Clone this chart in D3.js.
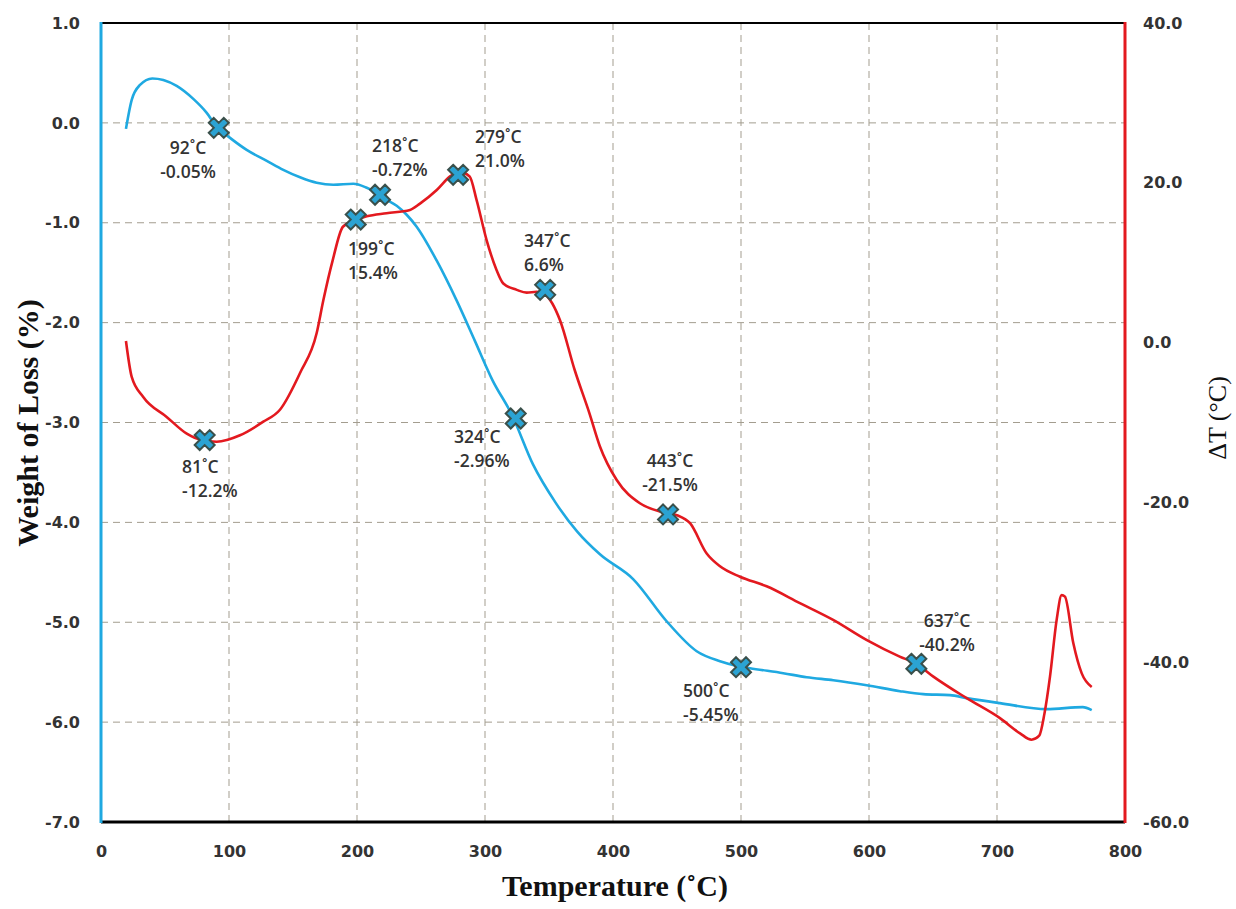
<!DOCTYPE html>
<html>
<head>
<meta charset="utf-8">
<script src="https://cdn.jsdelivr.net/npm/d3@7/dist/d3.min.js"></script>
<style>
  body { margin: 0; background: #fff; }
  svg { display: block; }
</style>
</head>
<body>
<svg width="1236" height="909"></svg>
<script>
// TG curve (weight loss %, left axis)
var tgTemp   = [19.5, 24, 30.5, 40.1, 48.7, 59.1, 72.1, 82.6, 90.4, 100.8, 113.8, 129.5, 142.4, 155.5, 168.5, 181.5, 197.1, 207.6, 214, 223.2, 231, 238.8, 246.6, 262.3, 277.9, 292, 306, 320.9, 337.5, 355, 371.9, 389.8, 415.9, 441.9, 465.4, 483.6, 497.9, 507, 533, 551.3, 572.1, 598.2, 624.2, 642.4, 663.3, 676.3, 702.3, 738.8, 767, 774];
var tgWeight = [-0.06, 0.23, 0.38, 0.445, 0.43, 0.37, 0.24, 0.10, -0.04, -0.15, -0.27, -0.38, -0.47, -0.545, -0.60, -0.62, -0.61, -0.65, -0.69, -0.77, -0.83, -0.92, -1.04, -1.38, -1.78, -2.18, -2.58, -2.92, -3.42, -3.80, -4.09, -4.32, -4.57, -4.99, -5.29, -5.39, -5.44, -5.46, -5.51, -5.55, -5.58, -5.63, -5.69, -5.72, -5.73, -5.76, -5.81, -5.87, -5.85, -5.88];

// DTA curve (delta T, right axis)
var dtaTemp  = [19.5, 24, 33, 51.3, 67, 78.7, 90.4, 108.6, 126.8, 139.8, 155.5, 168.5, 173.7, 181, 189, 198.4, 207.6, 223, 241.4, 249.2, 262.3, 272.7, 279.2, 288, 293.5, 301.3, 309, 314.3, 324.8, 332.6, 340.4, 347, 358.6, 370, 381.6, 389.8, 402.9, 421, 438, 450, 460.2, 473.2, 483.6, 499.2, 520, 546, 572, 598, 624, 637, 650.3, 676.3, 702.3, 718, 727, 733, 737, 741.4, 746.6, 750.5, 753.1, 759.6, 766.2, 774];
var dtaDelta = [0.2, -4.3, -6.8, -9.3, -11.4, -12.2, -12.4, -11.6, -9.9, -8.4, -3.8, 1.2, 5.3, 10.3, 14.5, 15.3, 15.8, 16.2, 16.6, 17.4, 19.1, 20.8, 21.4, 20.8, 17.8, 12.8, 9.1, 7.4, 6.6, 6.25, 6.37, 6.0, 2.8, -3.4, -8.85, -13.0, -17.2, -20.1, -21.2, -21.6, -22.6, -26.4, -28.0, -29.3, -30.5, -32.6, -34.7, -37.2, -39.3, -40.2, -41.8, -44.5, -47.0, -48.9, -49.7, -49.2, -46.5, -41.8, -34.7, -31.6, -31.8, -37.6, -41.4, -43.1];

// marked points
var tgMarkTemp = [92, 218, 324, 500];
var tgMarkVal  = [-0.05, -0.72, -2.96, -5.45];
var tgMarkText = ["-0.05%", "-0.72%", "-2.96%", "-5.45%"];
var dtaMarkTemp = [81, 199, 279, 347, 443, 637];
var dtaMarkVal  = [-12.2, 15.4, 21.0, 6.6, -21.5, -40.2];
var dtaMarkText = ["-12.2%", "15.4%", "21.0%", "6.6%", "-21.5%", "-40.2%"];

var xTicks = [0, 100, 200, 300, 400, 500, 600, 700, 800];
var yLeftTicks = [1, 0, -1, -2, -3, -4, -5, -6, -7];
var yRightTicks = [40, 20, 0, -20, -40, -60];

var svg = d3.select("svg"),
    margin = {top: 23, right: 111, bottom: 87, left: 101},
    width = +svg.attr("width") - margin.left - margin.right,
    height = +svg.attr("height") - margin.top - margin.bottom;

var x = d3.scaleLinear().domain([0, 800]).range([0, width]),
    yL = d3.scaleLinear().domain([-7, 1]).range([height, 0]),
    yR = d3.scaleLinear().domain([-60, 40]).range([height, 0]);

var g = svg.append("g")
    .attr("transform", "translate(" + margin.left + "," + margin.top + ")");

var fmt = function(d) { return d.toFixed(1); };
var tickFont = "'DejaVu Sans', Verdana, sans-serif";

// grid
g.append("g").selectAll("line")
  .data(yLeftTicks.slice(1, -1))
  .enter().append("line")
    .attr("x1", 0).attr("x2", width)
    .attr("y1", function(d) { return yL(d); })
    .attr("y2", function(d) { return yL(d); })
    .attr("stroke", "#a39d8f").attr("stroke-width", 1).attr("stroke-dasharray", "7,5");
g.append("g").selectAll("line")
  .data(xTicks.slice(1, -1))
  .enter().append("line")
    .attr("y1", 0).attr("y2", height)
    .attr("x1", function(d) { return x(d); })
    .attr("x2", function(d) { return x(d); })
    .attr("stroke", "#a39d8f").attr("stroke-width", 1).attr("stroke-dasharray", "7,5");

// axes (labels only)
var ax = g.append("g")
    .attr("transform", "translate(0," + height + ")")
    .call(d3.axisBottom(x).tickValues(xTicks).tickSize(0).tickPadding(24).tickFormat(d3.format("d")));
var al = g.append("g")
    .call(d3.axisLeft(yL).tickValues(yLeftTicks).tickSize(0).tickPadding(21).tickFormat(fmt));
var ar = g.append("g")
    .attr("transform", "translate(" + width + ",0)")
    .call(d3.axisRight(yR).tickValues(yRightTicks).tickSize(0).tickPadding(18).tickFormat(fmt));
[ax, al, ar].forEach(function(a) {
  a.select(".domain").remove();
  a.selectAll("text")
    .attr("font-family", tickFont)
    .attr("font-weight", "bold")
    .attr("font-size", "16px")
    .attr("fill", "#333");
});

// frame
g.append("line").attr("x1", 0).attr("x2", width).attr("y1", 0).attr("y2", 0)
  .attr("stroke", "#000").attr("stroke-width", 2);
g.append("line").attr("x1", 0).attr("x2", width).attr("y1", height).attr("y2", height)
  .attr("stroke", "#000").attr("stroke-width", 3);
g.append("line").attr("x1", 0).attr("x2", 0).attr("y1", -1).attr("y2", height + 1)
  .attr("stroke", "#1fa9e1").attr("stroke-width", 3);
g.append("line").attr("x1", width).attr("x2", width).attr("y1", -1).attr("y2", height + 1)
  .attr("stroke", "#e3191f").attr("stroke-width", 3);

// curves
var tgLine = d3.line()
    .x(function(d, i) { return x(tgTemp[i]); })
    .y(function(d) { return yL(d); })
    .curve(d3.curveMonotoneX);
var dtaLine = d3.line()
    .x(function(d, i) { return x(dtaTemp[i]); })
    .y(function(d) { return yR(d); })
    .curve(d3.curveMonotoneX);

g.append("path").datum(tgWeight)
  .attr("d", tgLine).attr("fill", "none")
  .attr("stroke", "#1fa9e1").attr("stroke-width", 2.6);
g.append("path").datum(dtaDelta)
  .attr("d", dtaLine).attr("fill", "none")
  .attr("stroke", "#e3191f").attr("stroke-width", 2.6);

// markers
var cross = d3.symbol().type(d3.symbolCross).size(250);
var marks = [];
tgMarkTemp.forEach(function(t, i) {
  marks.push({t: t, px: x(t), py: yL(tgMarkVal[i]), text: tgMarkText[i]});
});
dtaMarkTemp.forEach(function(t, i) {
  marks.push({t: t, px: x(t), py: yR(dtaMarkVal[i]), text: dtaMarkText[i]});
});

g.selectAll(".mark")
  .data(marks)
  .enter().append("path")
    .attr("class", "mark")
    .attr("d", cross)
    .attr("transform", function(d) { return "translate(" + d.px + "," + d.py + ") rotate(45)"; })
    .attr("fill", "#2ba3d3")
    .attr("stroke", "#3a504b")
    .attr("stroke-width", 2);

// label placement: [x, first baseline, anchor] in page pixels
var labelPlace = {
  92:  [188, 154, "middle"],
  218: [372, 152, "start"],
  324: [454, 443, "start"],
  500: [683, 697, "start"],
  81:  [182, 473, "start"],
  199: [348, 255, "start"],
  279: [475, 143, "start"],
  347: [524, 247, "start"],
  443: [670, 467, "middle"],
  637: [947, 627, "middle"]
};

var lab = svg.selectAll(".lab")
  .data(marks)
  .enter().append("text")
    .attr("class", "lab")
    .attr("font-family", "'Open Sans', sans-serif")
    .attr("font-weight", 600)
    .attr("font-size", "17.5px")
    .attr("fill", "#333")
    .attr("text-anchor", function(d) { return labelPlace[d.t][2]; });
lab.append("tspan")
    .attr("x", function(d) { return labelPlace[d.t][0]; })
    .attr("y", function(d) { return labelPlace[d.t][1]; })
    .text(function(d) { return d.t + "\u02DAC"; });
lab.append("tspan")
    .attr("x", function(d) { return labelPlace[d.t][0]; })
    .attr("y", function(d) { return labelPlace[d.t][1] + 24; })
    .text(function(d) { return d.text; });

// axis titles
svg.append("text")
  .attr("transform", "translate(38,423) rotate(-90)")
  .attr("text-anchor", "middle")
  .attr("font-family", "'Liberation Serif', 'Times New Roman', serif")
  .attr("font-weight", "bold")
  .attr("font-size", "30px")
  .attr("fill", "#111")
  .text("Weight of Loss (%)");
svg.append("text")
  .attr("transform", "translate(1226,418) rotate(-90)")
  .attr("text-anchor", "middle")
  .attr("font-family", "'Liberation Serif', 'Times New Roman', serif")
  .attr("font-size", "26px")
  .attr("fill", "#111")
  .text("\u0394T (\u00B0C)");
svg.append("text")
  .attr("x", 615).attr("y", 896)
  .attr("text-anchor", "middle")
  .attr("font-family", "'Liberation Serif', 'Times New Roman', serif")
  .attr("font-weight", "bold")
  .attr("font-size", "30px")
  .attr("fill", "#111")
  .text("Temperature (\u02DAC)");
</script>
</body>
</html>
